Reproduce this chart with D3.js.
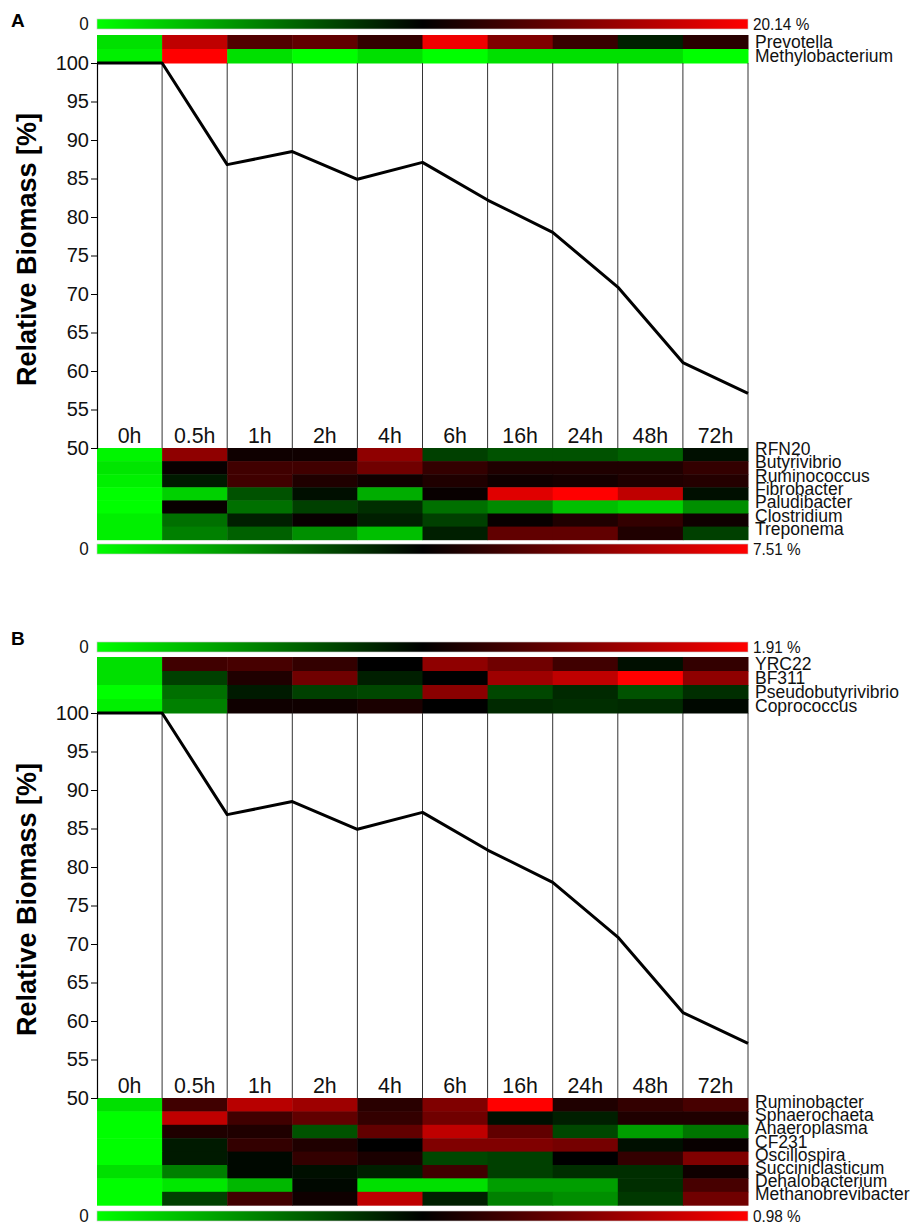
<!DOCTYPE html>
<html><head><meta charset="utf-8">
<script src="https://cdn.jsdelivr.net/npm/d3@7"></script>
<style>body{margin:0;background:#fff}</style></head>
<body><svg id="c" width="915" height="1225"></svg>
<script>
// ---------- data ----------
const times = ["0h","0.5h","1h","2h","4h","6h","16h","24h","48h","72h"];
const biomass = [100, 86.8, 88.5, 84.9, 87.1, 82.2, 78.0, 70.9, 61.1, 57.1];
const yTicks = [50,55,60,65,70,75,80,85,90,95,100];

// heat values: relative abundance as a fraction of the colour-bar maximum
const topGeneraA = ["Prevotella","Methylobacterium"];
const topValuesA = [
  [0.06,0.875,0.66,0.69,0.60,0.97,0.75,0.61,0.44,0.58],
  [0.03,1.00,0.06,0.00,0.06,0.00,0.06,0.06,0.06,0.00]
];
const topMaxA = "20.14 %";
const botGeneraA = ["RFN20","Butyrivibrio","Ruminococcus","Fibrobacter","Paludibacter","Clostridium","Treponema"];
const botValuesA = [
  [0.02,0.78,0.53,0.53,0.78,0.375,0.34,0.34,0.31,0.47],
  [0.05,0.515,0.625,0.625,0.72,0.60,0.56,0.56,0.56,0.60],
  [0.03,0.45,0.625,0.56,0.53,0.56,0.53,0.54,0.56,0.57],
  [0.00,0.09,0.34,0.47,0.16,0.515,0.94,1.00,0.875,0.47],
  [0.00,0.515,0.28,0.375,0.41,0.28,0.23,0.125,0.09,0.22],
  [0.03,0.28,0.44,0.515,0.44,0.375,0.515,0.56,0.60,0.53],
  [0.03,0.25,0.31,0.22,0.125,0.44,0.69,0.69,0.56,0.375]
];
const botMaxA = "7.51 %";

const topGeneraB = ["YRC22","BF311","Pseudobutyrivibrio","Coprococcus"];
const topValuesB = [
  [0.06,0.625,0.64,0.60,0.50,0.78,0.72,0.625,0.47,0.60],
  [0.06,0.375,0.56,0.72,0.44,0.50,0.81,0.875,1.00,0.78],
  [0.00,0.28,0.45,0.375,0.36,0.77,0.36,0.42,0.34,0.41],
  [0.03,0.25,0.53,0.53,0.55,0.50,0.42,0.41,0.42,0.485]
];
const topMaxB = "1.91 %";
const botGeneraB = ["Ruminobacter","Sphaerochaeta","Anaeroplasma","CF231","Oscillospira","Succiniclasticum","Dehalobacterium","Methanobrevibacter"];
const botValuesB = [
  [0.06,0.625,0.86,0.81,0.58,0.75,1.00,0.56,0.60,0.64],
  [0.00,0.875,0.625,0.69,0.60,0.72,0.47,0.44,0.56,0.56],
  [0.00,0.56,0.56,0.34,0.69,0.875,0.69,0.36,0.19,0.27],
  [0.00,0.45,0.60,0.56,0.50,0.75,0.75,0.73,0.47,0.515],
  [0.00,0.45,0.485,0.60,0.55,0.36,0.375,0.50,0.60,0.75],
  [0.06,0.25,0.485,0.47,0.44,0.625,0.375,0.41,0.41,0.53],
  [0.00,0.045,0.14,0.485,0.06,0.06,0.19,0.19,0.41,0.64],
  [0.00,0.375,0.625,0.53,0.875,0.44,0.25,0.22,0.39,0.72]
];
const botMaxB = "0.98 %";

// ---------- drawing ----------
const svg = d3.select("#c");
const sans = "'Liberation Sans',Arial,sans-serif";
const color = d3.scaleLinear().domain([0,0.5,1]).range(["#00ff00","#000000","#ff0000"]);

const defs = svg.append("defs");
const grad = defs.append("linearGradient").attr("id","gb");
[0,0.25,0.5,0.75,1].forEach(t => grad.append("stop").attr("offset", t*100+"%").attr("stop-color", color(t)));

const x = d3.scaleBand().domain(times).range([97,748]).padding(0);

function ntext(g, tx, ty, size, str, anchor, sx){
  return g.append("text").attr("transform",`translate(${tx},${ty}) scale(${sx||1},1)`)
    .attr("text-anchor",anchor||"start").attr("font-family",sans).attr("font-size",size).attr("fill","#111").text(str);
}

function colorBar(g, y, maxLabel){
  g.append("rect").attr("x",x.range()[0]).attr("y",y).attr("width",x.range()[1]-x.range()[0]).attr("height",10)
    .attr("fill","url(#gb)").attr("stroke","#c8c8c8").attr("stroke-width",0.6);
  ntext(g, 84, y+11, 19, "0", "middle", 0.9);
  ntext(g, 753, y+11, 16.5, maxLabel, "start", 0.93);
}

function heat(g, y0, rowH, genera, values, lab0, labStep){
  genera.forEach((name,r)=>{
    g.selectAll(null).data(values[r]).join("rect")
      .attr("x",(d,i)=>x(times[i])).attr("y",y0+r*rowH)
      .attr("width",x.bandwidth()+0.5).attr("height",rowH+0.5)
      .attr("fill",d=>color(d));
    ntext(g, 755, lab0 + r*labStep, 17.5, name, "start", 1);
  });
}

function panel(o){
  const g = svg.append("g");
  g.append("text").attr("x",11).attr("y",o.letterY).attr("font-family",sans).attr("font-weight","bold")
    .attr("font-size",19).text(o.letter);
  colorBar(g, o.topBarY, o.topMax);
  const nTop = o.topGenera.length;
  heat(g, o.plotTop - nTop*o.topRowH, o.topRowH, o.topGenera, o.topValues,
       o.plotTop - (nTop-1)*o.topRowH - 1, o.topRowH);
  heat(g, o.plotBottom, o.botRowH, o.botGenera, o.botValues, o.botLab0, o.botLabStep);
  colorBar(g, o.botBarY, o.botMax);

  const y = d3.scaleLinear().domain([50,100]).range([o.plotBottom,o.plotTop]);
  // band separators
  g.selectAll(null).data(times).join("line")
    .attr("x1",d=>x(d)+x.bandwidth()).attr("x2",d=>x(d)+x.bandwidth())
    .attr("y1",o.plotTop).attr("y2",o.plotBottom).attr("stroke","#333").attr("stroke-width",1);
  // column labels
  times.forEach(t => ntext(g, x(t)+x.bandwidth()/2, o.plotBottom-5, 22, t, "middle", 0.97));
  // axis
  const ax = g.append("g").attr("transform",`translate(${x.range()[0]},0)`)
    .call(d3.axisLeft(y).tickValues(yTicks).tickSize(6).tickPadding(2));
  ax.select(".domain").attr("stroke","#000").attr("stroke-width",1.2);
  ax.selectAll(".tick line").attr("stroke","#000");
  ax.selectAll(".tick text").attr("font-family",sans).attr("font-size",20).attr("fill","#111").attr("x",-8);
  g.append("text").attr("transform",`translate(27,${(o.plotTop+o.plotBottom)/2-6}) rotate(-90)`)
    .attr("text-anchor","middle").attr("dy","0.35em").attr("font-family",sans).attr("font-weight","bold")
    .attr("font-size",27).text("Relative Biomass [%]");
  // line: starts at left edge with the 0h value, then each time point at its band's right edge
  const pts = [[x.range()[0], biomass[0]]].concat(times.map((t,i)=>[x(t)+x.bandwidth(), biomass[i]]));
  g.append("path").datum(pts).attr("fill","none").attr("stroke","#000").attr("stroke-width",3)
    .attr("stroke-linejoin","round")
    .attr("d", d3.line().x(d=>d[0]).y(d=>y(d[1])));
}

panel({letter:"A", letterY:27, topBarY:19, topMax:topMaxA, topGenera:topGeneraA, topValues:topValuesA, topRowH:14,
  plotTop:63, plotBottom:448, botGenera:botGeneraA, botValues:botValuesA, botRowH:13.1, botLab0:455, botLabStep:13.3,
  botBarY:544, botMax:botMaxA});
panel({letter:"B", letterY:645, topBarY:642, topMax:topMaxB, topGenera:topGeneraB, topValues:topValuesB, topRowH:14,
  plotTop:713, plotBottom:1098, botGenera:botGeneraB, botValues:botValuesB, botRowH:13.4, botLab0:1108, botLabStep:13.2,
  botBarY:1211, botMax:botMaxB});
</script></body></html>
